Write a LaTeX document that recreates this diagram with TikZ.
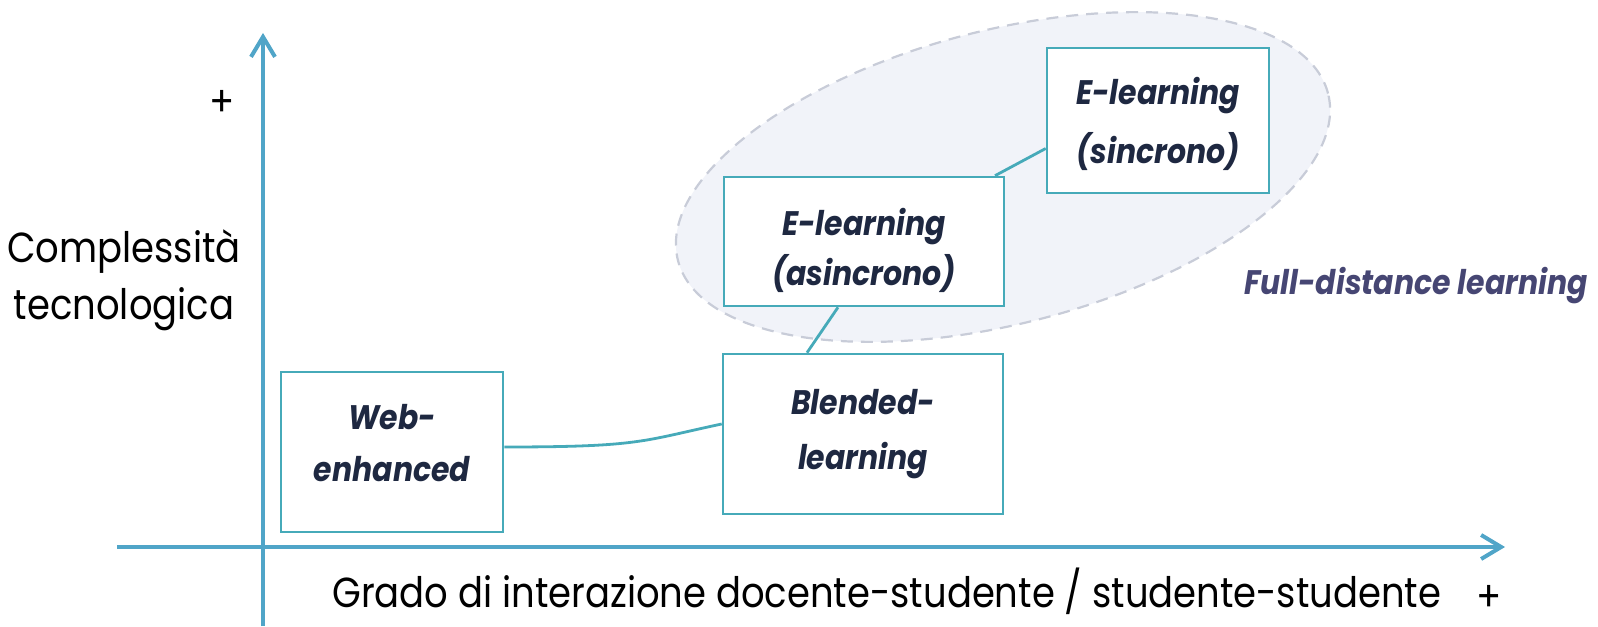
\documentclass[tikz,border=0pt]{standalone}
\usepackage{fontspec}
\setmainfont{Poppins}[FakeStretch=0.88]
\usetikzlibrary{arrows.meta}
\definecolor{axisblue}{RGB}{80,165,200}
\definecolor{boxteal}{RGB}{70,170,185}
\definecolor{navytext}{RGB}{30,40,65}
\definecolor{fdltext}{RGB}{70,70,115}
\definecolor{ellfill}{RGB}{241,243,249}
\definecolor{elldraw}{RGB}{200,204,216}
\tikzset{
  axisline/.style={draw=axisblue, line width=2pt, -{Straight Barb[length=10pt,width=12pt,line width=2pt]}},
  box/.style={draw=boxteal, fill=white, line width=1.3pt, inner sep=0pt},
  boxtext/.style={inner sep=0pt, align=center, text=navytext, font=\bfseries\itshape\fontsize{17}{26}\selectfont},
  link/.style={draw=boxteal, line width=1.4pt},
  axislabel/.style={text=black, font=\fontsize{21}{28.5}\selectfont, inner sep=0pt, align=center},
  fdl/.style={text=fdltext, font=\bfseries\itshape\fontsize{17}{20}\selectfont, inner sep=0pt}
}
\begin{document}
\begin{tikzpicture}[x=0.5pt,y=0.5pt]
\useasboundingbox (0,0) rectangle (1598,626);
% dashed ellipse
\path[draw=elldraw, fill=ellfill, line width=1.1pt, dash pattern=on 6pt off 4pt,
      rotate around={14.4:(1003,449)}] (1003,449) ellipse [x radius=335.6, y radius=146.8];
% axes
\coordinate (yb) at (263,0);
\coordinate (yt) at (263,593);
\coordinate (xl) at (117,79);
\coordinate (xr) at (1505,79);
\draw[axisline] (yb) -- (yt);
\draw[axisline] (xl) -- (xr);
% boxes
\node[box, minimum width=111pt, minimum height=80pt] (web) at (392,174) {};
\node[box, minimum width=140pt, minimum height=80pt] (blended) at (863,192) {};
\node[box, minimum width=140pt, minimum height=64.5pt] (async) at (864,384.5) {};
\node[box, minimum width=111pt, minimum height=72.5pt] (sync) at (1158,505.5) {};
\node[boxtext] (webt) at ([yshift=4.25pt]web.center) {Web-\\enhanced};
\node[boxtext, font=\bfseries\itshape\fontsize{17}{27.5}\selectfont] (blendedt) at (blended.center) {Blended-\\learning};
\node[boxtext, font=\bfseries\itshape\fontsize{17}{25}\selectfont] (asynct) at ([yshift=-4.25pt]async.center) {E-learning\\(asincrono)};
\node[boxtext, font=\bfseries\itshape\fontsize{17}{29.5}\selectfont] (synct) at ([yshift=-1.5pt]sync.center) {E-learning\\(sincrono)};
% connectors
\draw[link] ([yshift=2.5pt]web.east) .. controls +(137,0) and +(-80,-17) .. ([yshift=5pt]blended.west);
\draw[link] ([xshift=-28pt]blended.north) -- ([xshift=-13pt]async.south);
\draw[link] ([xshift=65.5pt]async.north) -- ([yshift=-14pt]sync.west);
% labels
\node[axislabel] (plusy) at (222,523) {+};
\node[axislabel] (ylab) at (124,346) {Complessità\\tecnologica};
\node[axislabel, anchor=base west] (xlab) at (332,19) {Grado di interazione docente-studente / studente-studente};
\node[axislabel] (plusx) at (1489,28) {+};
\node[fdl, anchor=base] (fdlab) at (1416,331) {Full-distance learning};
\end{tikzpicture}
\end{document}
